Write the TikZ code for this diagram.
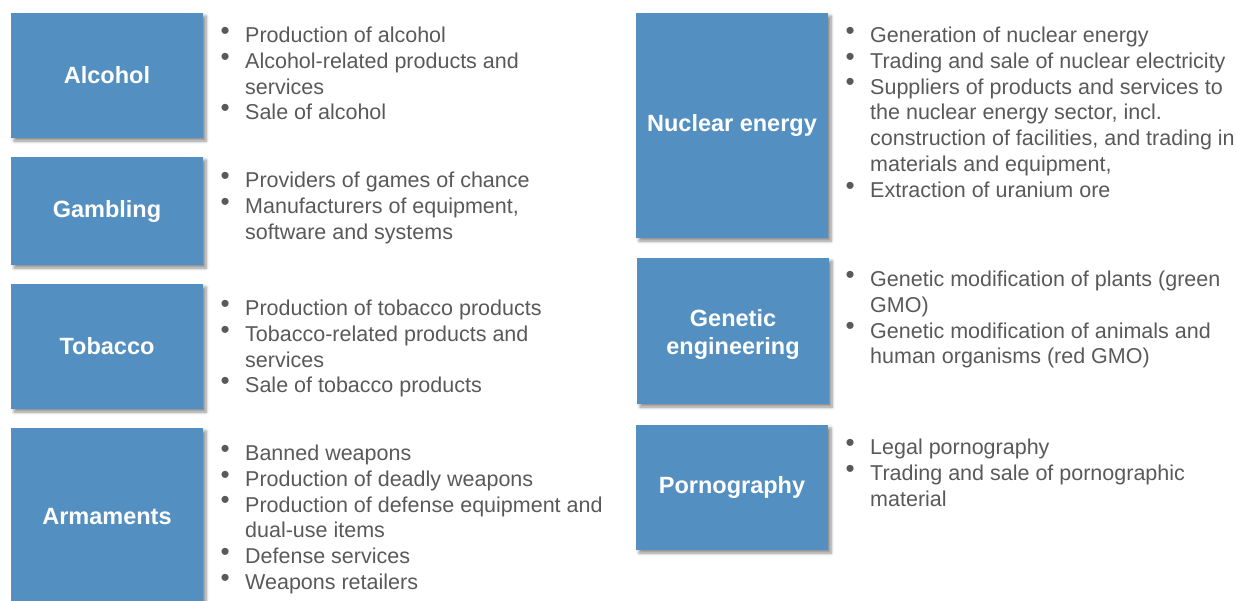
\documentclass[tikz,border=0pt]{standalone}
\usepackage{fontspec}
\setmainfont{Liberation Sans}
\usetikzlibrary{shadows.blur}
\definecolor{catblue}{RGB}{84,143,193}
\definecolor{listgray}{RGB}{89,89,89}
\newcommand\bul{\llap{\smash{\raisebox{3.2pt}{\fontsize{26}{26}\selectfont\textbullet}}\hspace{15.5pt}}}
\tikzset{
  cattext/.style={text=white, align=center, inner sep=0pt,
    font=\fontsize{23.5}{28}\selectfont\bfseries},
  catbox/.style={rectangle, fill=catblue, draw=none, cattext, inner sep=2pt,
    minimum width=192pt,
    blur shadow={shadow xshift=3pt, shadow yshift=-3pt, shadow blur steps=6,
      shadow blur radius=3pt, shadow opacity=45}},
  itemlist/.style={anchor=north west, align=left, inner sep=0pt, text=listgray,
    font=\fontsize{21.5}{25.8}\selectfont}
}
\begin{document}
\begin{tikzpicture}[x=1pt, y=-1pt]
\useasboundingbox (0,0) rectangle (1236,600);

% left column: categories
\node[catbox, minimum height=125pt] (alcohol) at (107,75.5) {Alcohol};
\node[catbox, minimum height=108pt] (gambling) at (107,211) {Gambling};
\node[catbox, minimum height=125pt] (tobacco) at (107,346.5) {Tobacco};
\node[catbox, minimum height=177pt] (armaments) at (107,516.5) {Armaments};

% right column: categories
\node[catbox, minimum height=225pt] (nuclear) at (732,125.5) {Nuclear energy};
\node[catbox, minimum height=146pt] (genetic) at (733,331) {};
\node[cattext] (genetictext) at (733,334) {Genetic\\engineering};
\node[catbox, minimum height=125pt] (porn) at (732,487.5) {Pornography};

% left column: item lists
\node[itemlist] (alcoholitems) at (245,26.8) {\bul Production of alcohol\\
  \bul Alcohol-related products and\\ services\\
  \bul Sale of alcohol};
\node[itemlist] (gamblingitems) at (245,171.8) {\bul Providers of games of chance\\
  \bul Manufacturers of equipment,\\ software and systems};
\node[itemlist] (tobaccoitems) at (245,299.8) {\bul Production of tobacco products\\
  \bul Tobacco-related products and\\ services\\
  \bul Sale of tobacco products};
\node[itemlist] (armamentsitems) at (245,444.8) {\bul Banned weapons\\
  \bul Production of deadly weapons\\
  \bul Production of defense equipment and\\ dual-use items\\
  \bul Defense services\\
  \bul Weapons retailers};

% right column: item lists
\node[itemlist] (nuclearitems) at (870,26.8) {\bul Generation of nuclear energy\\
  \bul Trading and sale of nuclear electricity\\
  \bul Suppliers of products and services to\\ the nuclear energy sector, incl.\\
  construction of facilities, and trading in\\ materials and equipment,\\
  \bul Extraction of uranium ore};
\node[itemlist] (geneticitems) at (870,270.8) {\bul Genetic modification of plants (green\\ GMO)\\
  \bul Genetic modification of animals and\\ human organisms (red GMO)};
\node[itemlist] (pornitems) at (870,438.8) {\bul Legal pornography\\
  \bul Trading and sale of pornographic\\ material};
\end{tikzpicture}
\end{document}
